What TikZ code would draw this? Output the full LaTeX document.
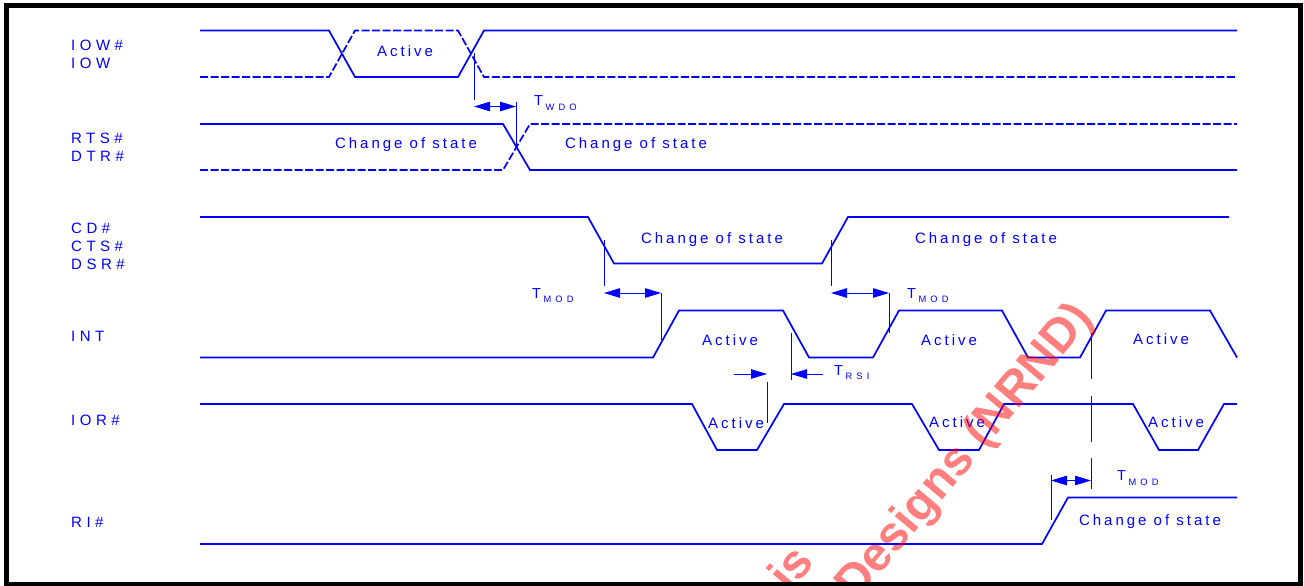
\documentclass[tikz,border=0pt]{standalone}
\usepackage{fontspec}
\setmainfont{Liberation Sans}
\newfontfamily\lblfont[LetterSpace=30]{Liberation Sans}
\newfontfamily\txtfont[LetterSpace=20]{Liberation Sans}
\newfontfamily\subfont[LetterSpace=45]{Liberation Sans}
\usetikzlibrary{arrows.meta}
\definecolor{sig}{RGB}{0,0,255}
\definecolor{wm}{RGB}{255,0,0}
\newcommand{\tsub}[1]{T\hspace{2.5pt}\raisebox{-4.5pt}{\subfont\fontsize{9.3}{10}\selectfont #1}}
\begin{document}
\begin{tikzpicture}[x=1pt,y=-1pt,
  wave/.style={draw=sig,line width=1.7pt,line join=miter},
  dwave/.style={wave,dash pattern=on 8pt off 2.5pt},
  markline/.style={draw=sig,line width=0.9pt},
  dim/.style={markline,{Triangle[length=16pt,width=9.5pt]}-{Triangle[length=16pt,width=9.5pt]}},
  rdim/.style={markline,-{Triangle[length=16pt,width=9.5pt]}},
  lbl/.style={text=sig,font=\lblfont\fontsize{15}{18}\selectfont,anchor=west,inner sep=0pt},
  txt/.style={text=sig,font=\txtfont\fontsize{15}{18}\selectfont,inner sep=0pt},
  tlab/.style={text=sig,font=\txtfont\fontsize{14.5}{17}\selectfont,anchor=base west,inner sep=0pt},
  wmark/.style={text=wm,text opacity=0.5,font=\bfseries\fontsize{48}{55}\selectfont,rotate=50,inner sep=0pt}
]
\useasboundingbox (0,0) rectangle (1304,586);
\fill[white] (0,0) rectangle (1304,586);

% ---- signal labels
\node[lbl] (lIOWn) at (71,45.5) {IOW\#};
\node[lbl] (lIOW) at (71,63.3) {IOW};
\node[lbl] (lRTS) at (71,138.3) {RTS\#};
\node[lbl] (lDTR) at (71,156.7) {DTR\#};
\node[lbl] (lCD) at (71,228) {CD\#};
\node[lbl] (lCTS) at (71,246) {CTS\#};
\node[lbl] (lDSR) at (71,264) {DSR\#};
\node[lbl] (lINT) at (71,336) {INT};
\node[lbl] (lIOR) at (71,420) {IOR\#};
\node[lbl] (lRI) at (71,522) {RI\#};

% ---- waveforms
\draw[wave] (200,30.5) -- (329,30.5) -- (355,77) -- (458,77) -- (484,30.5) -- (1237,30.5);
\draw[dwave] (200,77) -- (329,77) -- (355,30.5) -- (458,30.5) -- (484,77) -- (1237,77);
\draw[wave] (200,124) -- (503,124) -- (530,170) -- (1237,170);
\draw[dwave] (200,170) -- (503,170) -- (530,124) -- (1237,124);
\draw[wave] (200,217) -- (588,217) -- (614,263.5) -- (822,263.5) -- (848,217) -- (1229,217);
\draw[wave] (200,357.5) -- (653,357.5) -- (679,310.5) -- (783,310.5) -- (809,357.5) -- (873,357.5)
  -- (899,310.5) -- (1002,310.5) -- (1028,357.5) -- (1080,357.5) -- (1106,310.5) -- (1210,310.5) -- (1237,357.5);
\draw[wave] (200,404) -- (692,404) -- (717,450) -- (757,450) -- (784,404) -- (912,404) -- (939,450)
  -- (979,450) -- (1004,404) -- (1133,404) -- (1159,450) -- (1198,450) -- (1224,404) -- (1237,404);
\draw[wave] (200,544) -- (1042,544) -- (1068,497.5) -- (1237,497.5);

% ---- state texts
\node[txt] (a1) at (405,51) {Active};
\node[txt] (c1) at (406,145) {Change of state};
\node[txt] (c2) at (636,145) {Change of state};
\node[txt] (c3) at (712,240) {Change of state};
\node[txt] (c4) at (986,240) {Change of state};
\node[txt] (a2) at (730,340) {Active};
\node[txt] (a3) at (949,340) {Active};
\node[txt] (a4) at (1161,339) {Active};
\node[txt] (a5) at (736,423) {Active};
\node[txt] (a6) at (957,422) {Active};
\node[txt] (a7) at (1176,422) {Active};
\node[txt] (c5) at (1150,522) {Change of state};

% ---- T_WDO
\coordinate (wA) at (474,53); \coordinate (wB) at (474,100);
\coordinate (wL) at (474,106.5); \coordinate (wR) at (516,106.5);
\coordinate (wC) at (516,102); \coordinate (wD) at (516,148);
\draw[markline] (wA) -- (wB);
\draw[dim] (wL) -- (wR);
\draw[markline] (wC) -- (wD);
\node[tlab] (twdo) at (534,106) {\tsub{WDO}};

% ---- T_MOD 1
\coordinate (m1A) at (604,240); \coordinate (m1B) at (604,286);
\coordinate (m1L) at (604,293); \coordinate (m1R) at (661,293);
\coordinate (m1D) at (661,340);
\draw[markline] (m1A) -- (m1B);
\draw[dim] (m1L) -- (m1R);
\draw[markline] (m1R) -- (m1D);
\node[tlab] (tmod1) at (532,298.3) {\tsub{MOD}};

% ---- T_MOD 2
\coordinate (m2A) at (831,240); \coordinate (m2B) at (831,286);
\coordinate (m2L) at (831,293); \coordinate (m2R) at (889,293);
\coordinate (m2D) at (889,333);
\draw[markline] (m2A) -- (m2B);
\draw[dim] (m2L) -- (m2R);
\draw[markline] (m2R) -- (m2D);
\node[tlab] (tmod2) at (907,298.3) {\tsub{MOD}};

% ---- T_RSI
\coordinate (rA) at (791,333); \coordinate (rB) at (791,380);
\coordinate (rL1) at (734,374); \coordinate (rL2) at (767,374);
\coordinate (rR1) at (823,374); \coordinate (rR2) at (791,374);
\coordinate (rC) at (767,382); \coordinate (rD) at (767,423);
\draw[markline] (rA) -- (rB);
\draw[rdim] (rL1) -- (rL2);
\draw[rdim] (rR1) -- (rR2);
\draw[markline] (rC) -- (rD);
\node[tlab] (trsi) at (834,375) {\tsub{RSI}};

% ---- T_MOD 3
\coordinate (m3A) at (1091,333); \coordinate (m3B) at (1091,489);
\coordinate (m3L) at (1051,480.5); \coordinate (m3R) at (1091,480.5);
\coordinate (m3C) at (1051,475); \coordinate (m3D) at (1051,520);
\draw[markline,dash pattern=on 46pt off 16.5pt] (m3A) -- (m3B);
\draw[dim] (m3L) -- (m3R);
\draw[markline] (m3C) -- (m3D);
\node[tlab] (tmod3) at (1117,480.7) {\tsub{MOD}};

% ---- watermark
\node[wmark,anchor=base west] (wm2) at (856,603) {Designs (NRND)};
\node[wmark,anchor=base east] (wm1) at (816,563) {is};

% ---- frame
\draw[black,line width=5pt] (6.5,5.5) rectangle (1300,584);
\end{tikzpicture}
\end{document}
